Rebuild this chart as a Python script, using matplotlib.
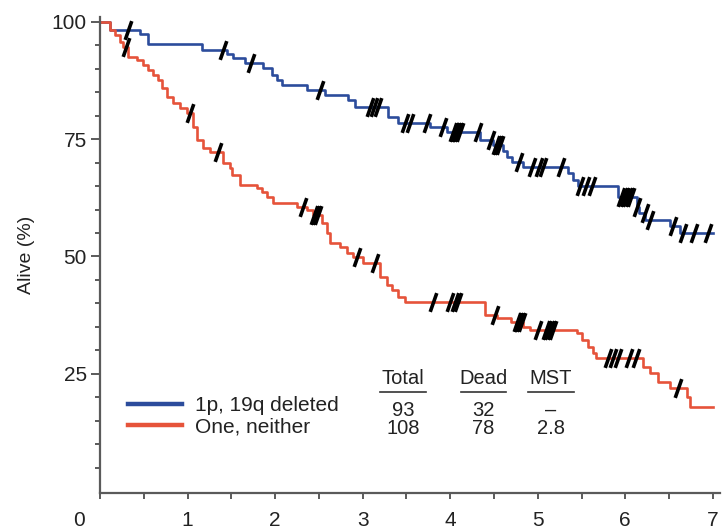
import numpy as np
import matplotlib.pyplot as plt
from matplotlib.path import Path
from matplotlib.ticker import MultipleLocator

plt.rcParams['font.family'] = ['Liberation Sans', 'DejaVu Sans']

# Kaplan-Meier steps: time (years) of each drop and survival (%) after it
del_t = [0, 0.11, 0.46, 0.55, 1.16, 1.45, 1.52, 1.66, 1.86, 1.96, 2.02, 2.08,
         2.36, 2.57, 2.83, 2.91, 3.29, 3.40, 3.77, 3.96, 4.34, 4.49, 4.60,
         4.65, 4.71, 4.83, 5.34, 5.40, 5.46, 5.92, 6.13, 6.16, 6.23, 6.51, 6.63]
del_s = [100, 98.3, 97.4, 95.3, 94.0, 93.2, 92.3, 91.2, 90.2, 88.7, 87.6, 86.6,
         85.5, 84.4, 83.4, 81.9, 79.7, 78.5, 77.6, 76.5, 74.8, 73.8, 72.4,
         71.3, 70.2, 69.0, 67.9, 66.4, 65.0, 62.7, 60.5, 59.3, 57.8, 56.4, 55.0]
del_cens = [0.32, 1.40, 1.73, 2.51, 3.08, 3.13, 3.18, 3.48, 3.54, 3.74, 3.92,
            4.03, 4.05, 4.07, 4.09, 4.11, 4.32, 4.47, 4.52, 4.55, 4.57, 4.79,
            4.93, 5.02, 5.06, 5.27, 5.48, 5.55, 5.62, 5.95, 5.98, 6.01, 6.04,
            6.07, 6.13, 6.22, 6.28, 6.54, 6.66, 6.79, 6.94]

nei_t = [0, 0.11, 0.17, 0.23, 0.26, 0.32, 0.42, 0.49, 0.55, 0.60, 0.66, 0.71,
         0.76, 0.83, 0.91, 0.99, 1.06, 1.11, 1.18, 1.26, 1.40, 1.48, 1.51,
         1.60, 1.79, 1.85, 1.91, 1.98, 2.25, 2.36, 2.43, 2.54, 2.59, 2.63,
         2.74, 2.82, 2.89, 3.00, 3.20, 3.28, 3.34, 3.40, 3.48, 4.40, 4.53,
         4.70, 4.83, 4.91, 5.45, 5.51, 5.57, 5.63, 5.67, 6.20, 6.28, 6.37,
         6.51, 6.70, 6.74]
nei_s = [100, 98.3, 97.2, 95.7, 94.7, 92.5, 91.9, 90.8, 89.8, 88.7, 87.6, 85.9,
         84.0, 82.7, 81.7, 80.6, 77.6, 74.8, 73.1, 72.3, 69.9, 68.9, 67.4,
         65.2, 64.6, 63.8, 62.7, 61.4, 60.6, 59.9, 58.8, 57.1, 55.0, 52.9,
         52.0, 50.7, 49.9, 48.6, 45.6, 43.9, 42.9, 41.4, 40.3, 37.5, 36.9,
         36.0, 35.0, 34.3, 33.7, 32.2, 30.7, 29.4, 28.4, 26.4, 25.2, 23.2,
         22.0, 20.0, 17.9]
nei_cens = [0.30, 1.03, 1.35, 2.32, 2.45, 2.47, 2.49, 2.93, 3.14, 3.80, 4.00,
            4.05, 4.09, 4.51, 4.76, 4.78, 4.80, 4.82, 5.00, 5.09, 5.12, 5.15,
            5.18, 5.80, 5.86, 5.92, 6.04, 6.12, 6.60]

groups = ['1p, 19q deleted', 'One, neither']
colors = ['#2c4c9c', '#e6533a']
totals = ['93', '108']
deaths = ['32', '78']
mst = ['\u2013', '2.8']
t_end = 7.0

fig = plt.figure(figsize=(7.22, 5.32), dpi=100)
ax = fig.add_axes([0.1385, 0.0727, 0.8585, 0.8948])

slash = Path([(-0.35, -1), (0.35, 1)], [Path.MOVETO, Path.LINETO])

curves = [(del_t, del_s, del_cens), (nei_t, nei_s, nei_cens)]
for (t, s, cens), col, lab in zip(curves, colors, groups):
    t = np.asarray(t)
    s = np.asarray(s)
    ax.step(np.r_[t, t_end], np.r_[s, s[-1]], where='post', color=col,
            lw=1.9, label=lab, zorder=2)
    idx = np.searchsorted(t, cens, side='right') - 1
    ax.plot(cens, s[idx], ls='none', marker=slash, ms=13.5, mew=2.6,
            color='black', zorder=3)

ax.set_xlim(0, 7.08)
ax.set_ylim(-0.5, 101)
ax.set_xticks(range(1, 8))
ax.xaxis.set_minor_locator(MultipleLocator(0.5))
ax.set_yticks([25, 50, 75, 100])
ax.set_yticks(np.arange(5, 100, 5), minor=True)

for side in ['top', 'right']:
    ax.spines[side].set_visible(False)
for side in ['left', 'bottom']:
    ax.spines[side].set_color('#5a5a5a')
    ax.spines[side].set_linewidth(1.6)

ax.tick_params(axis='y', which='major', length=6.5, width=1.4, color='#5a5a5a',
               labelsize=15, pad=3, labelcolor='#222222')
ax.tick_params(axis='y', which='minor', length=3.8, width=1.4, color='#5a5a5a')
ax.tick_params(axis='x', which='both', length=4, width=1.4, color='#5a5a5a',
               labelsize=15, pad=9, labelcolor='#222222')
ax.annotate('0', xy=(0, 0), xycoords=('data', 'axes fraction'),
            xytext=(-15, -13), textcoords='offset points', ha='center',
            va='top', fontsize=15, color='#222222')

ax.set_ylabel('Alive (%)', fontsize=14, color='#222222', labelpad=12)

leg = ax.legend(loc='upper left', bbox_to_anchor=(0.32, 20.2),
                bbox_transform=ax.transData, frameon=False, fontsize=15,
                handlelength=2.6, handletextpad=0.6, labelspacing=0.12,
                borderpad=0, borderaxespad=0)
for h in leg.legend_handles:
    h.set_linewidth(3.2)
for txt in leg.get_texts():
    txt.set_color('#222222')

# summary table
col_x = [3.46, 4.38, 5.15]
headers = ['Total', 'Dead', 'MST']
row_y = [17.2, 13.4]
for x, h in zip(col_x, headers):
    ax.text(x, 23.9, h, ha='center', va='center', fontsize=14.5, color='#222222')
    ax.plot([x - 0.26, x + 0.26], [21.2, 21.2], color='#333333', lw=1.2)
for cells, x in zip([totals, deaths, mst], col_x):
    for c, y in zip(cells, row_y):
        ax.text(x, y, c, ha='center', va='center', fontsize=14.5, color='#222222')

fig.savefig('out.png', dpi=100)
